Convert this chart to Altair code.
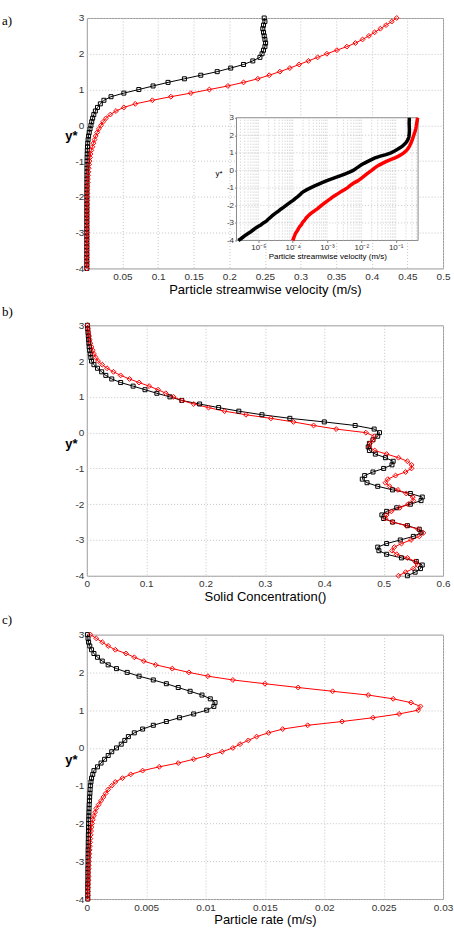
import altair as alt
import pandas as pd

# ---------------- data ----------------
Y = [3.0, 2.9, 2.8, 2.7, 2.6, 2.5, 2.4, 2.3, 2.2, 2.1, 2.0, 1.9, 1.8, 1.7, 1.6, 1.5,
     1.4, 1.3, 1.2, 1.1, 1.0, 0.9, 0.8, 0.7, 0.6, 0.5, 0.4, 0.3, 0.2, 0.1, 0.0,
     -0.1, -0.2, -0.3, -0.4, -0.5, -0.6, -0.7, -0.8, -0.9, -1.0, -1.1, -1.2, -1.3,
     -1.4, -1.5, -1.6, -1.7, -1.8, -1.9, -2.0, -2.1, -2.2, -2.3, -2.4, -2.5, -2.6,
     -2.7, -2.8, -2.9, -3.0, -3.1, -3.2, -3.3, -3.4, -3.5, -3.6, -3.7, -3.8, -3.9, -4.0]

VEL_BLACK = [0.249, 0.250, 0.248, 0.247, 0.248, 0.249, 0.250, 0.251, 0.250, 0.248, 0.246,
             0.243, 0.233, 0.220, 0.202, 0.183, 0.160, 0.137, 0.114, 0.093, 0.073, 0.052,
             0.034, 0.024, 0.019, 0.015, 0.012, 0.0098, 0.0082, 0.0069, 0.0058,
             0.0045, 0.0034, 0.0025, 0.0018, 0.0013, 0.00095, 0.00072, 0.00055, 0.00042,
             0.00033, 0.00026, 0.00021, 0.00018, 0.00016, 0.00014, 0.00012, 0.000105,
             0.000088, 0.000075, 0.000064, 0.000055, 0.000046, 0.000040, 0.000034,
             0.000029, 0.000025, 0.000022, 0.000019, 0.000017, 0.000014, 0.000012,
             0.0000098, 0.0000082, 0.0000070, 0.0000060, 0.0000050, 0.0000042,
             0.0000036, 0.0000031, 0.0000026]
VEL_RED = [0.435, 0.428, 0.420, 0.412, 0.404, 0.396, 0.387, 0.377, 0.365, 0.351, 0.337,
           0.324, 0.311, 0.298, 0.285, 0.271, 0.256, 0.240, 0.220, 0.198, 0.172, 0.146,
           0.118, 0.092, 0.068, 0.052, 0.041, 0.033, 0.027, 0.023, 0.020,
           0.017, 0.0145, 0.0125, 0.0108, 0.0093, 0.0078, 0.0063, 0.0052, 0.0045,
           0.0039, 0.0032, 0.0026, 0.0022, 0.0018, 0.0015, 0.0013, 0.0011, 0.00094,
           0.00080, 0.00069, 0.00060, 0.00052, 0.00044, 0.00037, 0.00032, 0.00028,
           0.00025, 0.00023, 0.00021, 0.00019, 0.00018, 0.00016, 0.00015, 0.00014,
           0.00013, 0.00012, 0.000115, 0.00011, 0.000105, 0.00010]

CONC_BLACK = [0.001, 0.0015, 0.002, 0.0025, 0.003, 0.0035, 0.004, 0.0048, 0.0058, 0.0068,
              0.0080, 0.012, 0.018, 0.025, 0.032, 0.042, 0.057, 0.078, 0.098, 0.118,
              0.140, 0.160, 0.190, 0.222, 0.256, 0.295, 0.342, 0.400, 0.452, 0.484, 0.493,
              0.490, 0.482, 0.476, 0.474, 0.476, 0.486, 0.503, 0.516, 0.514, 0.500,
              0.482, 0.468, 0.464, 0.472, 0.490, 0.515, 0.545, 0.565, 0.563, 0.545,
              0.522, 0.505, 0.497, 0.500, 0.515, 0.540, 0.560, 0.563, 0.550, 0.528,
              0.505, 0.490, 0.492, 0.505, 0.530, 0.555, 0.565, 0.562, 0.553, 0.540]
CONC_RED = [0.001, 0.002, 0.003, 0.004, 0.005, 0.006, 0.008, 0.010, 0.012, 0.015, 0.019,
            0.026, 0.034, 0.045, 0.057, 0.072, 0.088, 0.105, 0.120, 0.133, 0.146, 0.160,
            0.180, 0.205, 0.232, 0.268, 0.310, 0.348, 0.382, 0.420, 0.470,
            0.484, 0.482, 0.477, 0.476, 0.485, 0.505, 0.525, 0.540, 0.547, 0.547,
            0.537, 0.520, 0.507, 0.503, 0.510, 0.524, 0.538, 0.549, 0.550, 0.541,
            0.527, 0.513, 0.505, 0.503, 0.515, 0.538, 0.558, 0.567, 0.560, 0.546,
            0.530, 0.518, 0.514, 0.522, 0.540, 0.553, 0.557, 0.550, 0.537, 0.525]

RATE_BLACK = [0.00005, 0.0001, 0.00015, 0.00025, 0.0004, 0.0006, 0.0009, 0.0013, 0.0018,
              0.0025, 0.0034, 0.0044, 0.0056, 0.0067, 0.0077, 0.0087, 0.0097, 0.0104,
              0.0108, 0.0107, 0.0101, 0.0090, 0.0078, 0.0067, 0.0056, 0.0047, 0.0040,
              0.0035, 0.0032, 0.0029, 0.0025,
              0.0021, 0.0018, 0.0015, 0.0012, 0.0009, 0.0006, 0.0005, 0.0004, 0.00035,
              0.0003, 0.00028, 0.00026, 0.00024, 0.00022, 0.0002, 0.00019, 0.00018,
              0.00017, 0.00016, 0.00015, 0.00014, 0.00014, 0.00013, 0.00013, 0.00012,
              0.00012, 0.00011, 0.00011, 0.0001, 0.0001, 0.0001, 0.00009, 0.00009,
              0.00009, 0.00009, 0.00008, 0.00008, 0.00008, 0.00008, 0.00008]
RATE_RED = [0.0003, 0.0008, 0.0013, 0.0018, 0.0024, 0.0033, 0.0040, 0.0048, 0.0058, 0.0072,
            0.0086, 0.0102, 0.0123, 0.0150, 0.0178, 0.0207, 0.0237, 0.0258, 0.0273,
            0.0281, 0.0279, 0.0263, 0.0241, 0.0215, 0.0186, 0.0165, 0.0153, 0.0143,
            0.0136, 0.0129, 0.0123,
            0.0114, 0.0102, 0.0090, 0.0077, 0.0061, 0.0047, 0.0037, 0.0030, 0.0024,
            0.0021, 0.0018, 0.0016, 0.0014, 0.0012, 0.0010, 0.0008, 0.0007, 0.0006,
            0.0005, 0.00045, 0.0004, 0.00036, 0.00033, 0.0003, 0.00028, 0.00026,
            0.00024, 0.00022, 0.0002, 0.00018, 0.00017, 0.00016, 0.00015, 0.00014,
            0.00013, 0.00012, 0.00011, 0.0001, 0.0001, 0.0001]

Y_TICKS = [-4, -3, -2, -1, 0, 1, 2, 3]
VEL_TICKS = [0.05, 0.1, 0.15, 0.2, 0.25, 0.3, 0.35, 0.4, 0.45, 0.5]
CONC_TICKS = [0, 0.1, 0.2, 0.3, 0.4, 0.5, 0.6]
RATE_TICKS = [0, 0.005, 0.01, 0.015, 0.02, 0.025, 0.03]
INSET_TICKS = [1e-5, 1e-4, 1e-3, 1e-2, 1e-1]
INSET_DOMAIN = [2.3e-6, 0.45]
INSET_GRID_X = [m * 10.0 ** e for e in range(-6, 0) for m in range(1, 10)
                if INSET_DOMAIN[0] <= m * 10.0 ** e <= INSET_DOMAIN[1]]
INSET_GRID_Y = [-3, -2, -1, 0, 1, 2]

SERIES = ["black", "red"]
COLORS = ["#000000", "#ff0000"]
SHAPES = ["square", "diamond"]

FONT = "Liberation Sans"
W = 357


def long_df(black, red):
    return pd.DataFrame({
        "y": Y + Y,
        "v": black + red,
        "series": [SERIES[0]] * len(Y) + [SERIES[1]] * len(Y),
        "i": list(range(len(Y))) * 2,
    })


color = alt.Color("series:N", scale=alt.Scale(domain=SERIES, range=COLORS), legend=None)
shape = alt.Shape("series:N", scale=alt.Scale(domain=SERIES, range=SHAPES), legend=None)
size = alt.Size("series:N", scale=alt.Scale(domain=SERIES, range=[16, 24]), legend=None)


def main_layer(df, xdom, xvals, xtitle, ytitle_y):
    xaxis = alt.Axis(values=xvals, labelExpr="'' + datum.value", title=xtitle, orient="bottom",
                     grid=True, labelFlush=False, labelOverlap=False)
    yaxis = alt.Axis(values=Y_TICKS, labelExpr="'' + datum.value", title="y*", orient="left",
                     grid=True, titleAngle=0, titleX=-16, titleY=ytitle_y, titleAlign="center",
                     titleBaseline="middle", titleFontWeight="bold", labelOverlap=False)
    base = alt.Chart(df).encode(
        x=alt.X("v:Q", scale=alt.Scale(domain=xdom, nice=False, zero=False), axis=xaxis),
        y=alt.Y("y:Q", scale=alt.Scale(domain=[-4, 3], nice=False, zero=False), axis=yaxis),
        color=color,
        order=alt.Order("i:Q"),
    )
    lines = base.mark_line(strokeWidth=1)
    pts = base.mark_point(filled=False, strokeWidth=1, opacity=1).encode(shape=shape, size=size)
    return alt.layer(lines, pts)


def panel_title(txt, dy):
    return alt.TitleParams(txt, anchor="start", frame="group", dx=-85, dy=dy,
                           font="Liberation Serif", fontSize=13, fontWeight="normal",
                           color="#000000")


# ---------------- panel a with inset ----------------
df_a = long_df(VEL_BLACK, VEL_RED)
main_a = main_layer(df_a, [0, 0.5], VEL_TICKS, "Particle streamwise velocity (m/s)", 118)

ISX = alt.Scale(type="log", domain=INSET_DOMAIN, range=[150, 332], nice=False)
ISY = alt.Scale(domain=[-4, 3], range=[223, 100], nice=False, zero=False)
sup = ("'10' + (datum.value < 3e-5 ? '⁻⁵' : datum.value < 3e-4 ? '⁻⁴' : "
       "datum.value < 3e-3 ? '⁻³' : datum.value < 3e-2 ? '⁻²' : '⁻¹')")
IXA = alt.Axis(orient="bottom", offset=-28, values=INSET_TICKS, labelExpr=sup,
               title="Particle streamwise velocity (m/s)", titleFontSize=8, labelFontSize=8,
               grid=False, ticks=True, tickSize=2, tickColor="#888", labelPadding=1,
               titlePadding=1, titleFontWeight="normal", labelFlush=False, labelOverlap=False,
               zindex=2)
IYA = alt.Axis(orient="left", offset=-150, values=Y_TICKS, labelExpr="'' + datum.value",
               title="y*", titleAngle=0, titleX=-18, titleY=156, titleAlign="center",
               titleBaseline="middle", titleFontSize=8, labelFontSize=8, grid=False,
               ticks=True, tickSize=2, tickColor="#888", labelPadding=1,
               titleFontWeight="normal", labelOverlap=False, zindex=2)

inset_bg = alt.Chart(pd.DataFrame({"k": [0]})).mark_rect(
    fill="white", stroke="#8a8a8a", strokeWidth=1).encode(
    x=alt.X(datum=INSET_DOMAIN[0], scale=ISX, axis=IXA),
    x2=alt.X2(datum=INSET_DOMAIN[1]),
    y=alt.Y(datum=-4, scale=ISY, axis=IYA),
    y2=alt.Y2(datum=3),
)
inset_vgrid = alt.Chart(pd.DataFrame({"g": INSET_GRID_X})).mark_rule(
    color="#bdbdbd", strokeDash=[1, 2], strokeWidth=0.8).encode(
    x=alt.X("g:Q", scale=ISX, axis=IXA),
    y=alt.Y(datum=-4, scale=ISY, axis=IYA),
    y2=alt.Y2(datum=3),
)
inset_hgrid = alt.Chart(pd.DataFrame({"h": INSET_GRID_Y})).mark_rule(
    color="#bdbdbd", strokeDash=[1, 2], strokeWidth=0.8).encode(
    y=alt.Y("h:Q", scale=ISY, axis=IYA),
    x=alt.X(datum=INSET_DOMAIN[0], scale=ISX, axis=IXA),
    x2=alt.X2(datum=INSET_DOMAIN[1]),
)
inset_lines = alt.Chart(df_a).mark_line(strokeWidth=3.5).encode(
    x=alt.X("v:Q", scale=ISX, axis=IXA),
    y=alt.Y("y:Q", scale=ISY, axis=IYA),
    color=color,
    order=alt.Order("i:Q"),
)
inset = alt.layer(inset_bg, inset_vgrid, inset_hgrid, inset_lines)

panel_a = alt.layer(main_a, inset).resolve_scale(x="independent", y="independent").properties(
    width=W, height=251, title=panel_title("a)", 19))

# ---------------- panel b ----------------
df_b = long_df(CONC_BLACK, CONC_RED)
panel_b = main_layer(df_b, [0, 0.6], CONC_TICKS, "Solid Concentration()", 118).properties(
    width=W, height=251, title=panel_title("b)", 3))

# ---------------- panel c ----------------
df_c = long_df(RATE_BLACK, RATE_RED)
panel_c = main_layer(df_c, [0, 0.03], RATE_TICKS, "Particle rate (m/s)", 125).properties(
    width=W, height=265, title=panel_title("c)", 1))

chart = alt.vconcat(panel_a, panel_b, panel_c, spacing=8).properties(
    padding={"left": 1, "top": 11, "right": 0, "bottom": 0},
    background="white",
).configure_view(
    stroke="#9a9a9a", strokeWidth=1
).configure_axis(
    labelFont=FONT, labelFontSize=10, labelColor="#333333",
    titleFont=FONT, titleFontSize=13, titleColor="#000000", titleFontWeight="normal",
    gridColor="#c4c4c4", gridDash=[1, 2], gridWidth=1,
    domain=False, ticks=False, labelPadding=3, titlePadding=2,
)

chart.save("out.html", embed_options={"renderer": "svg", "actions": False})
